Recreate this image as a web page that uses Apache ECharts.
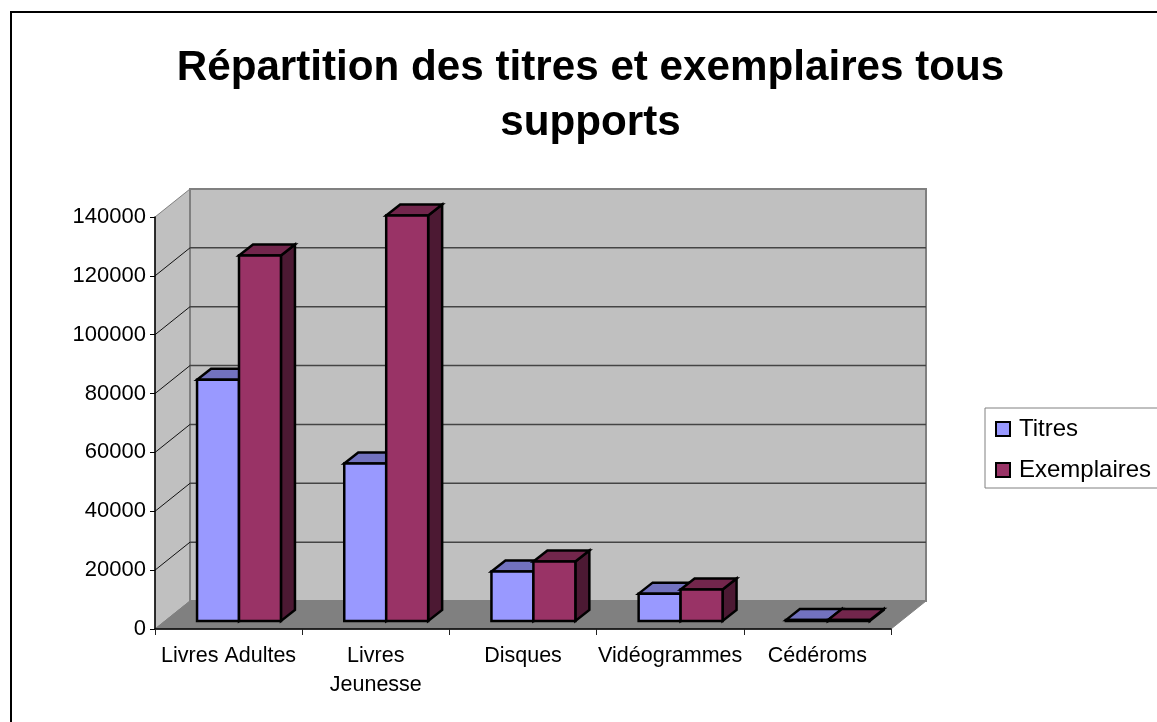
<!DOCTYPE html>
<html>
<head>
<meta charset="utf-8">
<title>Répartition des titres et exemplaires</title>
<script src="https://cdn.jsdelivr.net/npm/echarts@6/dist/echarts.min.js"></script>
<style>
  html, body { margin: 0; padding: 0; background: #fff; overflow: hidden; }
  #chart { width: 1157px; height: 722px; }
</style>
</head>
<body>
<div id="chart"></div>
<script>
const categories = ['Livres Adultes', 'Livres\nJeunesse', 'Disques', 'Vidéogrammes', 'Cédéroms'];
const titres = [82000, 53500, 16800, 9300, 300];
const exemplaires = [124200, 137800, 20200, 10700, 300];
const tickValues = [0, 20000, 40000, 60000, 80000, 100000, 120000, 140000];

const font = '"Liberation Sans", Arial, sans-serif';

// depth of the fake 3d box, in px
const wallDx = 35, wallDy = -28;
const barDx = 14, barDy = -11;
const floorDx = 10.4, floorDy = -8;

const chart = echarts.init(document.getElementById('chart'));

function renderWalls(params, api) {
  const r = params.coordSys;
  const x0 = r.x, x1 = r.x + r.width, yTop = r.y, yBot = r.y + r.height;
  const poly = (pts, fill, stroke, w) => ({
    type: 'polygon',
    shape: { points: pts },
    style: { fill: fill, stroke: stroke, lineWidth: w }
  });
  return {
    type: 'group',
    children: [
      poly([[x0, yTop], [x0 + wallDx, yTop + wallDy], [x0 + wallDx, yBot + wallDy], [x0, yBot]], '#c0c0c0', '#808080', 1),
      poly([[x0 + wallDx, yTop + wallDy], [x1 + wallDx, yTop + wallDy], [x1 + wallDx, yBot + wallDy], [x0 + wallDx, yBot + wallDy]], '#c0c0c0', '#808080', 2),
      poly([[x0, yBot], [x0 + wallDx, yBot + wallDy], [x1 + wallDx, yBot + wallDy], [x1, yBot]], '#808080', '#808080', 1)
    ]
  };
}

function renderGridLine(params, api) {
  const v = api.value(0);
  if (v === 0 || v === 140000) return null;
  const r = params.coordSys;
  const y = api.coord([0, v])[1];
  const x0 = r.x, x1 = r.x + r.width;
  return {
    type: 'group',
    children: [
      { type: 'line', shape: { x1: x0, y1: y, x2: x0 + wallDx, y2: y + wallDy }, style: { stroke: '#111', lineWidth: 1 } },
      { type: 'line', shape: { x1: x0 + wallDx, y1: y + wallDy, x2: x1 + wallDx, y2: y + wallDy }, style: { stroke: '#444', lineWidth: 1.5 } }
    ]
  };
}

// one bar: front face, top and right side
function makeBar(side, front, top, sideCol) {
  return function (params, api) {
    const p = api.coord([api.value(0), api.value(1)]);
    const base = api.coord([api.value(0), 0]);
    const w = api.size([1, 0])[0] * 0.285;
    const xa = p[0] + floorDx + (side < 0 ? -w : 0);
    const xb = xa + w;
    const yt = p[1] + floorDy;
    const yb = base[1] + floorDy;
    const edge = { stroke: '#000', lineWidth: 2.5, lineJoin: 'miter' };
    return {
      type: 'group',
      children: [
        { type: 'polygon', shape: { points: [[xb, yt], [xb + barDx, yt + barDy], [xb + barDx, yb + barDy], [xb, yb]] }, style: Object.assign({ fill: sideCol }, edge) },
        { type: 'polygon', shape: { points: [[xa, yt], [xa + barDx, yt + barDy], [xb + barDx, yt + barDy], [xb, yt]] }, style: Object.assign({ fill: top }, edge) },
        { type: 'polygon', shape: { points: [[xa, yt], [xb, yt], [xb, yb], [xa, yb]] }, style: Object.assign({ fill: front }, edge) }
      ]
    };
  };
}

const option = {
  animation: false,
  backgroundColor: '#fff',
  textStyle: { fontFamily: font },
  title: {
    text: 'Répartition des titres et exemplaires tous\nsupports',
    left: 585.5,
    top: 36,
    textAlign: 'center',
    textStyle: { fontFamily: font, fontSize: 42.2, fontWeight: 'bold', color: '#000', lineHeight: 55 }
  },
  legend: {
    data: ['Titres', 'Exemplaires'],
    orient: 'vertical',
    left: 985,
    top: 408,
    padding: [9, 60, 6, 10],
    itemWidth: 14,
    itemHeight: 14,
    itemGap: 17,
    icon: 'rect',
    borderColor: '#808080',
    borderWidth: 1,
    backgroundColor: '#fff',
    selectedMode: false,
    textStyle: { fontFamily: font, fontSize: 24, color: '#000', padding: [0, 0, 0, 4] }
  },
  graphic: [{
    type: 'rect',
    shape: { x: 11, y: 12, width: 1300, height: 900 },
    style: { fill: 'none', stroke: '#000', lineWidth: 2 },
    silent: true,
    z: 0
  }],
  grid: { left: 155, top: 217, width: 736, height: 412 },
  xAxis: {
    type: 'category',
    data: categories,
    axisTick: { show: true, alignWithLabel: false, length: 6, lineStyle: { color: '#222' } },
    axisLine: { lineStyle: { color: '#000', width: 1.5 } },
    axisLabel: { color: '#000', fontFamily: font, fontSize: 21.5, lineHeight: 29, margin: 13, interval: 0 },
    z: 5
  },
  yAxis: {
    type: 'value',
    min: 0,
    max: 140000,
    interval: 20000,
    splitLine: { show: false },
    axisLine: { show: true, lineStyle: { color: '#000', width: 1.5 } },
    axisTick: { show: true, length: 5, lineStyle: { color: '#000' } },
    axisLabel: { color: '#000', fontFamily: font, fontSize: 22, margin: 9, formatter: v => String(v) },
    z: 5
  },
  series: [
    {
      name: 'murs',
      type: 'custom',
      data: [[0]],
      renderItem: renderWalls,
      silent: true,
      z: 1
    },
    {
      name: 'grille',
      type: 'custom',
      data: tickValues.map(v => [v]),
      encode: { y: 0 },
      renderItem: renderGridLine,
      silent: true,
      z: 2
    },
    {
      name: 'Titres',
      type: 'custom',
      data: titres.map((v, i) => [i, v]),
      encode: { x: 0, y: 1 },
      itemStyle: { color: '#9999ff', borderColor: '#000', borderWidth: 2 },
      renderItem: makeBar(-1, '#9999ff', '#7272bf', '#4c4c80'),
      z: 3
    },
    {
      name: 'Exemplaires',
      type: 'custom',
      data: exemplaires.map((v, i) => [i, v]),
      encode: { x: 0, y: 1 },
      itemStyle: { color: '#993366', borderColor: '#000', borderWidth: 2 },
      renderItem: makeBar(1, '#993366', '#72264c', '#4c1933'),
      z: 4
    }
  ]
};

chart.setOption(option);
</script>
</body>
</html>
